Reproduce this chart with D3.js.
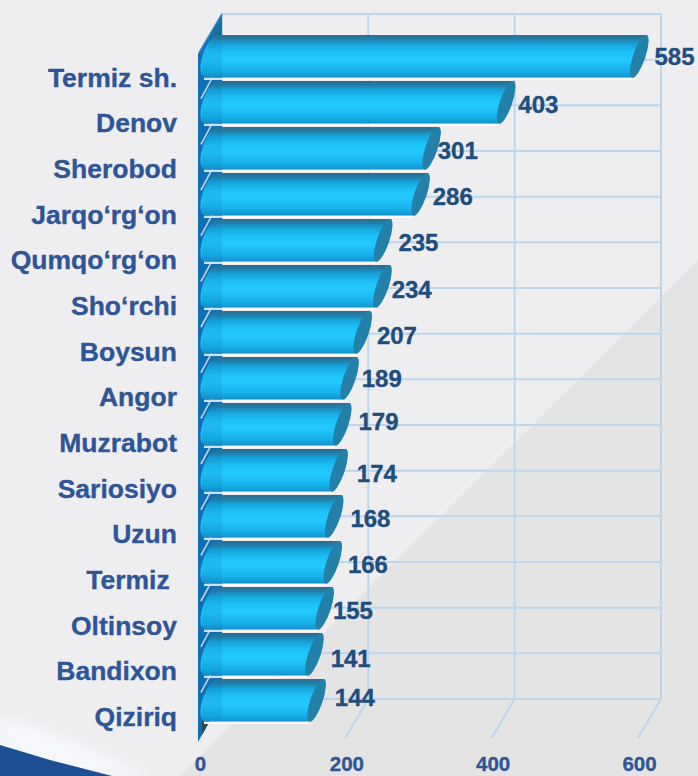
<!DOCTYPE html>
<html><head><meta charset="utf-8">
<script src="https://cdn.jsdelivr.net/npm/d3@7"></script>
<style>html,body{margin:0;padding:0;background:#eeeef0;overflow:hidden}svg{display:block}text{font-family:"Liberation Sans",Arial,sans-serif;font-weight:700;stroke-width:.35px;paint-order:stroke}</style>
</head><body><svg id="c" width="698" height="776"></svg>
<script>
const categories=["Termiz sh.","Denov","Sherobod","Jarqo‘rg‘on","Qumqo‘rg‘on","Sho‘rchi","Boysun","Angor","Muzrabot","Sariosiyo","Uzun","Termiz\u00a0","Oltinsoy","Bandixon","Qiziriq"];
const values=[585,403,301,286,235,234,207,189,179,174,168,166,155,141,144];
const xTicks=[0,200,400,600];
const labelDx=[28,25,19,25,28,22,27,25,29,31,29,28,21,29,31];
const labelDy=[0,2,2,2,2,3,3,0,-3,3,2,2,2,4,-3];

const svg=d3.select("#c");
const W=698,H=776;
const defs=svg.append("defs");
const g=defs.append("linearGradient").attr("id","bar").attr("x1",0).attr("x2",0).attr("y1",0).attr("y2",1);
[[0,"#2d6f8d"],[.08,"#23789f"],[.22,"#16a4dc"],[.42,"#20c4fc"],[.6,"#22c8ff"],[.85,"#17b0ea"],[.97,"#1099d2"],[1,"#2b86ac"]].forEach(s=>g.append("stop").attr("offset",s[0]).attr("stop-color",s[1]));
const wg=defs.append("linearGradient").attr("id","wallTop").attr("x1",0).attr("x2",0).attr("y1",0).attr("y2",1);
[[0,"#1b78a8"],[1,"#17627f"]].forEach(s=>wg.append("stop").attr("offset",s[0]).attr("stop-color",s[1]));
defs.append("filter").attr("id","soft").append("feGaussianBlur").attr("stdDeviation",6);

// backdrop
svg.append("rect").attr("width",W).attr("height",H).attr("fill","#eeeef1");
svg.append("path").attr("d","M698 260L180 776L698 776Z").attr("fill","#e4e4e4");
svg.append("path").attr("d","M0 715L60 735L150 776L0 776Z").attr("fill","#f6f7fa").attr("filter","url(#soft)");
svg.append("path").attr("d","M0 745L50 760L112 776L0 776Z").attr("fill","#1d4f92");

// scales
const floorDx=-23, floorDy=39;
const xBack=d3.scaleLinear().domain([0,600]).range([222,661]);
const yGrid=d3.scaleLinear().domain([0,15]).range([14,699]);
const yBar=d3.scaleBand().domain(categories).range([35,721.5]).paddingInner(0.076).paddingOuter(0);
const yLab=d3.scalePoint().domain(categories).range([86,725.5]);
const xFront=d3.scaleLinear().domain([0,600]).range([200,639]);

const gridColor="#bdd6ee";
// back wall grid
const gridG=svg.append("g").attr("stroke",gridColor).attr("stroke-width",2).attr("fill","none");
xTicks.forEach(t=>{
  gridG.append("line").attr("x1",xBack(t)).attr("x2",xBack(t)).attr("y1",yGrid(0)).attr("y2",yGrid(15));
  if(t>0) gridG.append("line").attr("x1",xBack(t)).attr("x2",xBack(t)+floorDx).attr("y1",yGrid(15)).attr("y2",yGrid(15)+floorDy);
});
d3.range(16).forEach(i=>gridG.append("line").attr("x1",xBack(0)).attr("x2",xBack(600)).attr("y1",yGrid(i)).attr("y2",yGrid(i)));

// side wall
const x0=xBack(0);
const wallPts=[[x0,yGrid(0)],[x0,yGrid(15)],[x0+floorDx-1,yGrid(15)+floorDy+4],[x0+floorDx-1,yGrid(0)+floorDy+1]];
svg.append("path").attr("d",d3.line()(wallPts)+"Z").attr("fill","#0f6fb4");
svg.append("path").attr("d",d3.line()([[x0,yGrid(0)],[x0,yGrid(1)],[x0+floorDx+5,yGrid(1)]])+"Z").attr("fill","url(#wallTop)");
svg.append("path").attr("d",d3.line()([[x0,yGrid(15)-22],[x0,yGrid(15)],[x0+floorDx+3,yGrid(15)+floorDy-3],[x0+floorDx+3,yGrid(15)+10]])+"Z").attr("fill","#2a4a58");
// wall diagonals
d3.range(0,15).forEach(i=>svg.append("line")
  .attr("x1",x0).attr("y1",yGrid(i)).attr("x2",x0+floorDx+(i?2:0)).attr("y2",yGrid(i)+floorDy)
  .attr("stroke",i?"#dfe6ec":"#2f7fc4").attr("stroke-width",1.6));

// bars
const rx=5.5, lrx=8.5, shift=14.5;
const bars=svg.append("g");
categories.forEach((c,i)=>{
  const v=values[i], top=yBar(c), h=yBar.bandwidth(), bot=top+h;
  const xr=xBack(v)-3.5, xl=xBack(0)-3.5;   // top corner of each end
  const lean=Math.atan2(shift,h)*180/Math.PI;
  const ry=Math.hypot(shift,h)/2;
  const body=`M${xl} ${top}L${xr} ${top}A${rx} ${ry} ${lean} 0 1 ${xr-shift} ${bot}L${xl-shift} ${bot}A${lrx} ${ry} ${lean} 0 1 ${xl} ${top}Z`;
  bars.append("path").attr("d",`M${xl-shift} ${bot+1.2}L${xr-shift} ${bot+1.2}`).attr("stroke","#f7f8fa").attr("stroke-width",2.4);
  bars.append("path").attr("d",body).attr("fill","url(#bar)");
  const cx=xr-shift/2, cy=(top+bot)/2;
  bars.append("ellipse").attr("cx",cx).attr("cy",cy).attr("rx",rx+.6).attr("ry",ry)
    .attr("transform",`rotate(${lean} ${cx} ${cy})`).attr("fill","#2381a9");
});
// translucent wall over the bar roots
svg.append("path").attr("d",d3.line()([[x0,yGrid(0)+20],[x0,yGrid(15)+20],[x0+floorDx+3,yGrid(15)+21],[x0+floorDx+3,yGrid(0)+40]])+"Z").attr("fill","#0f6fb4").attr("opacity",.16);

// value labels
svg.append("g").selectAll("text").data(values).join("text")
  .attr("x",(d,i)=>xBack(d)-3.5+labelDx[i])
  .attr("y",(d,i)=>yBar(categories[i])+yBar.bandwidth()/2+labelDy[i])
  .attr("dy","0.36em").attr("text-anchor","middle")
  .attr("font-size",24).attr("fill","#1f4e7e").attr("stroke","#1f4e7e").text(d=>d);

// category axis
const axL=svg.append("g").attr("transform","translate(177,0)").call(d3.axisLeft(yLab).tickSize(0).tickPadding(0));
axL.select(".domain").remove();
axL.selectAll("text").attr("font-size",26.5).attr("fill","#2f5597").attr("stroke","#2f5597").attr("dy","0").attr("x",0);

// value axis
const axB=svg.append("g").attr("transform","translate(0,757)").call(d3.axisBottom(xFront).tickValues(xTicks).tickSize(0).tickPadding(0).tickFormat(d3.format("d")));
axB.select(".domain").remove();
axB.selectAll("text").attr("font-size",20.5).attr("fill","#2f5597").attr("stroke","#2f5597").attr("dy","0.7em").attr("y",0);
</script></body></html>
